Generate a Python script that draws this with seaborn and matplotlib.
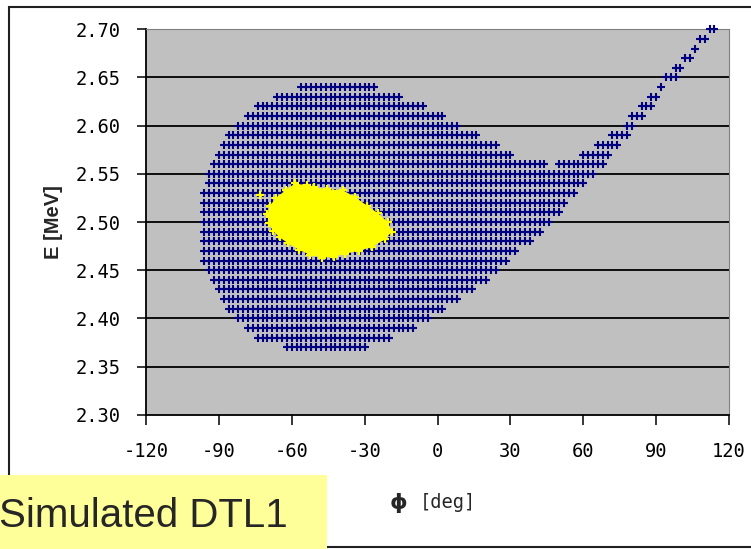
import numpy as np
import pandas as pd
import matplotlib
matplotlib.use("Agg")
import matplotlib.pyplot as plt
from matplotlib.patches import Rectangle
import seaborn as sns

# Longitudinal acceptance scan: every energy row keeps the surviving
# phase points from phi_min to phi_max (2-degree scan step).
phi_step = 2
row_energy = [2.37, 2.38, 2.39, 2.40, 2.41, 2.42, 2.43, 2.44, 2.45, 2.46,
              2.47, 2.48, 2.49, 2.50, 2.51, 2.52, 2.53, 2.54, 2.55, 2.56,
              2.57, 2.58, 2.59, 2.60, 2.61, 2.62, 2.63, 2.64]
row_phi_min = [-62, -74, -78, -82, -86, -88, -90, -92, -94, -96,
               -96, -96, -96, -96, -96, -96, -96, -94, -94, -92,
               -90, -88, -86, -82, -78, -74, -66, -56]
row_phi_max = [-30, -20, -10, -4, 2, 8, 14, 20, 24, 28,
               32, 38, 42, 46, 50, 52, 56, 60, 64, 44,
               30, 24, 16, 8, 2, -6, -16, -26]

# Right-hand branch escaping the bucket
tail_energy = [2.56, 2.57, 2.58, 2.59, 2.60, 2.61, 2.62, 2.63,
               2.64, 2.65, 2.66, 2.67, 2.68, 2.69, 2.70]
tail_phi_min = [50, 60, 66, 72, 78, 80, 84, 88, 92, 94, 98, 102, 106, 108, 112]
tail_phi_max = [68, 70, 74, 78, 80, 84, 88, 90, 92, 98, 100, 104, 106, 110, 114]

# Outline of the simulated DTL1 beam spot
beam_phi = [-62.5, -58.7, -53.8, -51.0, -45.6, -39.0, -34.0, -29.0, -24.5,
            -20.5, -18.9, -21.5, -27.0, -32.5, -38.0, -42.5, -47.5, -52.5,
            -57.0, -61.5, -65.0, -67.8, -69.5, -70.0, -69.0, -66.5]
beam_energy = [2.533, 2.540, 2.538, 2.536, 2.534, 2.533, 2.526, 2.517, 2.509,
               2.500, 2.490, 2.482, 2.474, 2.470, 2.467, 2.464, 2.463, 2.466,
               2.471, 2.478, 2.484, 2.491, 2.499, 2.508, 2.517, 2.525]
stray_phi = [-73.0]
stray_energy = [2.528]

x_ticks = [-120, -90, -60, -30, 0, 30, 60, 90, 120]
y_ticks = [2.30, 2.35, 2.40, 2.45, 2.50, 2.55, 2.60, 2.65, 2.70]


def expand(energies, lo, hi):
    rows = []
    for e, a, b in zip(energies, lo, hi):
        for p in np.arange(a, b + 1, phi_step):
            rows.append((float(p), e))
    return rows


scan = pd.DataFrame(expand(row_energy, row_phi_min, row_phi_max)
                    + expand(tail_energy, tail_phi_min, tail_phi_max),
                    columns=["phi", "E"])
beam_edge = pd.DataFrame({"phi": beam_phi + stray_phi,
                          "E": beam_energy + stray_energy})

sns.set_style("white")
mono = ["DejaVu Sans Mono"]

W, H = 751, 549
fig = plt.figure(figsize=(W / 100, H / 100), dpi=100)
fig.patch.set_facecolor("white")
ax = fig.add_axes([146 / W, 1 - 414.7 / H, 583 / W, 385.4 / H])
ax.set_facecolor("#C0C0C0")

for y in y_ticks[1:-1]:
    ax.axhline(y, color="black", lw=1.3, zorder=1)

sns.scatterplot(data=scan, x="phi", y="E", marker="+", color="#000080",
                s=26, linewidth=1.5, ax=ax, zorder=3, clip_on=False,
                legend=False)

ax.fill(beam_phi, beam_energy, color="#FFFF00", lw=0, zorder=4)
sns.scatterplot(data=beam_edge, x="phi", y="E", marker="+", color="#FFFF00",
                s=30, linewidth=1.6, ax=ax, zorder=5, legend=False)

ax.set_xlim(-120, 120)
ax.set_ylim(2.30, 2.70)
ax.set_xticks(x_ticks)
ax.set_xticklabels([str(v) for v in x_ticks])
ax.set_yticks(y_ticks)
ax.set_yticklabels([f"{v:.2f}" for v in y_ticks])

for side in ("left", "bottom"):
    ax.spines[side].set_color("black")
    ax.spines[side].set_linewidth(1.3)
for side in ("top", "right"):
    ax.spines[side].set_color("#808080")
    ax.spines[side].set_linewidth(0.8)

ax.tick_params(axis="y", direction="out", length=6.5, width=1.1, pad=12,
               left=True, colors="black")
ax.tick_params(axis="x", direction="out", length=7, width=1.1, pad=13,
               bottom=True, colors="black")
for lab in ax.get_xticklabels() + ax.get_yticklabels():
    lab.set_fontfamily(mono)
    lab.set_fontsize(13.5)

ax.set_ylabel("E [MeV]", fontsize=14.5, fontweight="bold",
              fontfamily=["Liberation Sans"])
ax.yaxis.set_label_coords(-0.158, 0.5)
ax.yaxis.label.set_va("center")

ax.set_xlabel("[deg]", fontsize=13.5, fontfamily=mono)
ax.xaxis.set_label_coords(0.518, -0.229)
ax.xaxis.label.set_va("center")
ax.annotate("ϕ", xy=(0, 0.5), xycoords=ax.xaxis.label, xytext=(-9, 0),
            textcoords="offset points", ha="right", va="center",
            fontsize=16, fontweight="bold", fontfamily=["DejaVu Sans"])

# chart frame
fig.add_artist(Rectangle((9.3 / W, 2.3 / H), 1.0, 1 - 9.0 / H,
                         transform=fig.transFigure, fill=False,
                         ec="#202020", lw=1.5))

# caption box
fig.add_artist(Rectangle((-0.01, -0.01), 0.01 + 327 / W, 0.01 + 74 / H,
                         transform=fig.transFigure, fc="#FFFF99",
                         ec="none", zorder=10))
fig.text(-1 / W, (H - 526.7) / H, "Simulated DTL1", fontsize=29,
         fontfamily=["Liberation Sans"], va="baseline", ha="left",
         zorder=11)

fig.savefig("out.png", dpi=100)
